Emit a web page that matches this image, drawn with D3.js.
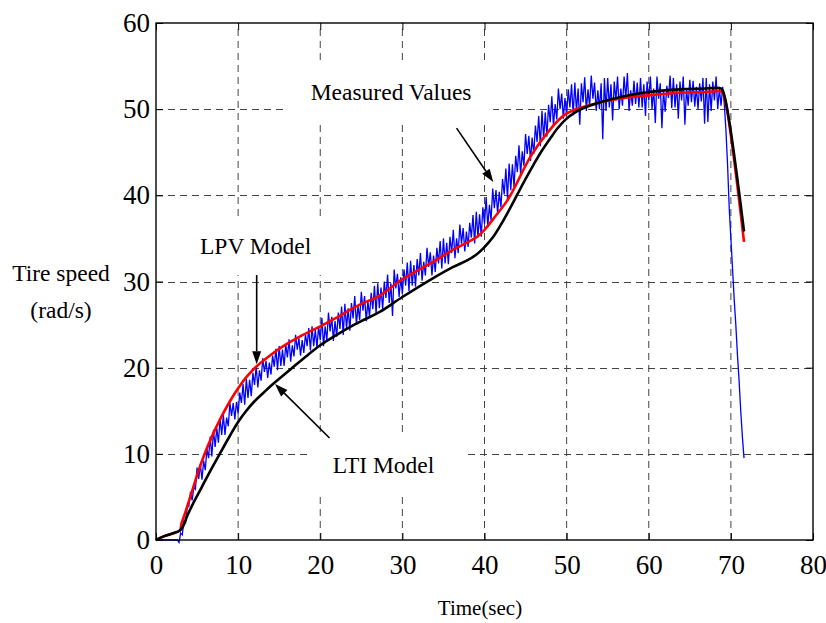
<!DOCTYPE html>
<html><head><meta charset="utf-8">
<script src="https://cdn.jsdelivr.net/npm/d3@7"></script>
<style>body{margin:0;background:#fff} svg{display:block}</style>
</head><body><svg id="c" width="826" height="623"></svg>
<script>
// ---------- data ----------
const xTicks = [0, 10, 20, 30, 40, 50, 60, 70, 80];
const yTicks = [0, 10, 20, 30, 40, 50, 60];

// LTI model (black)
const ltiTime  = [0, 1, 2, 2.9, 3.3, 3.8, 4.5, 5.5, 6.6, 8, 9, 10, 11, 12, 13, 14, 15, 16.5, 18, 20, 22, 23.6, 25, 27.3, 30, 33.4, 36.2, 38, 39.1, 40, 41, 42, 43, 44, 45, 46, 47, 48, 49, 50, 51, 52, 53.7, 57, 60, 63.8, 67, 68.8, 69.2, 71.6];
const ltiSpeed = [0, 0.45, 0.75, 1.1, 1.6, 2.8, 4.2, 6.0, 8.0, 10.4, 12.1, 13.7, 15.0, 16.1, 17.0, 17.9, 18.7, 19.9, 21.1, 22.6, 23.8, 24.7, 25.4, 26.5, 28.2, 30.2, 31.7, 32.5, 33.2, 34.0, 35.1, 36.6, 38.3, 40.1, 41.9, 43.6, 45.2, 46.6, 47.9, 48.9, 49.6, 50.1, 50.7, 51.5, 52.0, 52.3, 52.4, 52.4, 51.6, 35.8];

// LPV model (red)
const lpvTime  = [0, 1, 2, 2.9, 3.1, 3.6, 4.5, 5.2, 5.8, 6.8, 7.8, 9, 10, 11, 12.3, 14, 15.5, 17.5, 20, 22, 23.6, 25, 27.3, 29.9, 33.4, 36.2, 39.1, 40, 41.1, 42.7, 43.5, 45.6, 47.6, 50, 53.7, 57, 60, 63.8, 67, 68.9, 69.3, 71.6];
const lpvSpeed = [0, 0.45, 0.75, 1.1, 1.9, 3.3, 6.0, 8.1, 9.7, 12.0, 14.0, 16.1, 17.6, 18.9, 20.2, 21.5, 22.5, 23.6, 24.8, 25.8, 26.7, 27.4, 28.4, 30.2, 32.1, 33.7, 35.2, 36.0, 37.3, 39.3, 40.6, 44.5, 47.2, 49.5, 50.7, 51.3, 51.6, 51.9, 52.0, 52.0, 51.0, 34.6];

// Measured values (blue), sampled every 0.2 s from t = 0
const measStart = 0, measStep = 0.2;
const measSpeed = [
  0, 0, 0, 0, 0,   0, 0, 0, 0, 0,   0, 0, 0, 0, -0.3,
  0.8, 0.6, 2.2, 2.0, 3.8,        // 3
  3.9, 5.6, 4.6, 6.1, 5.9,        // 4
  8.4, 7.1, 8.8, 7.0, 9.2,        // 5
  8.1, 10.6, 9.5, 12.0, 9.7,      // 6
  12.8, 10.8, 13.0, 11.3, 14.1,   // 7
  12.2, 14.5, 12.2, 14.2, 13.2,   // 8
  15.9, 14.4, 15.9, 14.0, 16.0,   // 9
  14.7, 17.1, 15.9, 18.1, 15.7,   // 10
  18.7, 16.5, 18.6, 16.7, 19.4,   // 11
  18.0, 20.2, 17.7, 19.7, 18.5,   // 12
  21.1, 19.5, 20.8, 18.8, 20.6,   // 13
  19.2, 21.4, 20.1, 22.2, 19.7,   // 14
  22.5, 20.2, 22.1, 20.2, 22.7,   // 15
  21.2, 23.3, 20.7, 22.6, 21.3,   // 16
  23.8, 22.1, 23.4, 21.4, 23.2,   // 17
  21.7, 23.9, 22.5, 24.6, 22.0,   // 18
  24.8, 22.5, 24.4, 22.3, 24.8,   // 19
  23.2, 25.8, 22.5, 24.8, 23.1,   // 20
  26.4, 24.2, 25.9, 23.1, 25.4,   // 21
  23.6, 26.4, 24.5, 27.1, 23.8,   // 22
  27.4, 24.5, 26.9, 24.3, 27.5,   // 23
  25.7, 28.3, 25.0, 27.2, 25.5,   // 24
  28.8, 26.6, 28.3, 25.4, 27.7,   // 25
  25.9, 28.7, 26.8, 29.5, 26.2,   // 26
  29.8, 26.9, 29.3, 26.8, 30.0,   // 27
  28.1, 30.8, 27.5, 29.8, 26.0,   // 28
  31.4, 29.2, 30.9, 28.2, 30.5,   // 29
  28.6, 31.4, 29.5, 32.2, 28.9,   // 30
  32.4, 29.5, 31.9, 29.4, 32.6,   // 31
  30.7, 33.3, 30.1, 32.3, 30.7,   // 32
  33.9, 31.7, 33.4, 30.7, 33.0,   // 33
  31.1, 33.9, 32.1, 34.7, 31.5,   // 34
  35.0, 32.1, 34.5, 32.0, 35.2,   // 35
  33.3, 36.0, 32.7, 35.0, 33.3,   // 36
  36.6, 34.4, 36.2, 33.5, 35.8,   // 37
  34.0, 36.8, 35.1, 37.7, 34.4,   // 38
  38.1, 35.1, 37.8, 35.2, 38.6,   // 39
  36.7, 39.8, 36.3, 38.9, 37.1,   // 40
  40.8, 38.5, 40.6, 37.8, 40.4,   // 41
  38.6, 41.9, 40.1, 43.1, 39.6,   // 42
  43.7, 40.6, 43.6, 40.9, 44.6,   // 43
  42.7, 45.8, 42.4, 45.1, 43.4,   // 44
  47.1, 44.8, 46.9, 44.0, 46.7,   // 45
  44.8, 48.1, 46.2, 49.2, 45.7,   // 46
  49.8, 46.6, 49.6, 46.8, 50.5,   // 47
  48.5, 51.5, 48.0, 50.6, 48.8,   // 48
  52.4, 50.0, 51.8, 48.9, 51.3,   // 49
  49.3, 52.3, 50.2, 52.9, 49.3,   // 50
  53.1, 49.7, 52.4, 48.2, 53.0,   // 51
  50.8, 53.7, 49.8, 52.3, 50.3,   // 52
  53.9, 51.2, 53.1, 49.8, 52.2,   // 53
  50.0, 53.0, 46.5, 53.6, 49.8,   // 54
  53.6, 50.2, 52.9, 48.7, 53.2,   // 55
  51.0, 53.8, 50.0, 52.4, 50.4,   // 56
  53.8, 51.2, 54.2, 49.8, 52.2,   // 57
  50.4, 53.3, 50.6, 53.1, 50.2,   // 58
  53.6, 50.2, 52.9, 49.2, 53.2,   // 59
  51.0, 53.8, 50.0, 52.4, 48.4,   // 60
  53.8, 51.2, 53.0, 47.8, 52.2,   // 61
  49.7, 52.7, 51.3, 53.9, 50.1,   // 62
  53.6, 50.2, 52.9, 48.9, 53.2,   // 63
  51.0, 53.8, 48.2, 52.4, 50.4,   // 64
  53.4, 50.8, 53.3, 50.3, 52.6,   // 65
  50.0, 53.0, 50.9, 53.6, 48.3,   // 66
  53.6, 48.5, 52.9, 49.8, 53.2,   // 67
  51.0, 53.8, 50.0, 52.4, 50.4,   // 68
  52.6, 50.6, 47.5, 43.5, 38.5,   // 69
  35.0, 31.5, 28.0, 25.0, 21.5,   // 70
  18.5, 15.0, 12.0, 9.5           // 71
];

// annotations (data units)
const labelText  = ["Measured Values", "LPV Model", "LTI Model"];
const labelX     = [18.84, 5.36, 21.52];
const labelY     = [51.06, 33.19, 7.81];
const boxX0      = [16.07, 2.68, 18.75];
const boxX1      = [41.04, 21.8, 37.38];
const boxY0      = [48.63, 30.75, 5.45];
const boxY1      = [55.24, 37.6, 12.19];
const arrowFromX = [36.6, 12.26, 21.13];
const arrowFromY = [47.8, 30.75, 11.84];
const arrowToX   = [41.07, 12.26, 14.49];
const arrowToY   = [41.55, 20.4, 18.1];

// ---------- drawing ----------
const W = 826, H = 623;
const m = {left: 156, top: 23, right: 13, bottom: 83};
const serif = "'Times New Roman', 'Liberation Serif', serif";
const svg = d3.select("#c");
const x = d3.scaleLinear().domain([0, 80]).range([m.left, W - m.right]);
const y = d3.scaleLinear().domain([0, 60]).range([H - m.bottom, m.top]);

// grid
const grid = svg.append("g").attr("stroke", "#444").attr("stroke-width", 1).attr("stroke-dasharray", "7,5");
grid.selectAll("line.v").data(xTicks.slice(1, -1)).join("line").attr("class", "v")
  .attr("x1", d => x(d)).attr("x2", d => x(d)).attr("y1", y(0)).attr("y2", y(60));
grid.selectAll("line.h").data(yTicks.slice(1, -1)).join("line").attr("class", "h")
  .attr("y1", d => Math.round(y(d)) + 0.5).attr("y2", d => Math.round(y(d)) + 0.5).attr("x1", x(0)).attr("x2", x(80));

// white label boxes hiding the grid
svg.append("g").selectAll("rect").data(labelText).join("rect")
  .attr("x", (d, i) => x(boxX0[i])).attr("y", (d, i) => y(boxY1[i]))
  .attr("width", (d, i) => x(boxX1[i]) - x(boxX0[i])).attr("height", (d, i) => y(boxY0[i]) - y(boxY1[i]))
  .attr("fill", "#fff");

// series
const meas = measSpeed.map((v, i) => [measStart + i * measStep, v]);
const lti = ltiTime.map((t, i) => [t, ltiSpeed[i]]);
const lpv = lpvTime.map((t, i) => [t, lpvSpeed[i]]);
const lineLin = d3.line().x(d => x(d[0])).y(d => y(d[1]));
const lineSm = d3.line().x(d => x(d[0])).y(d => y(d[1])).curve(d3.curveCatmullRom.alpha(0.5));
svg.append("path").datum(meas).attr("d", lineLin).attr("fill", "none").attr("stroke", "#0000ff").attr("stroke-width", 1.3);
svg.append("path").datum(lpv).attr("d", lineSm).attr("fill", "none").attr("stroke", "#ff0000").attr("stroke-width", 2.6);
svg.append("path").datum(lti).attr("d", lineSm).attr("fill", "none").attr("stroke", "#000").attr("stroke-width", 2.6);

// axes
function styleAxis(g, showText) {
  g.select(".domain").remove();
  g.selectAll(".tick line").attr("stroke", "#000").attr("stroke-width", 1);
  g.selectAll(".tick text").attr("font-family", serif).attr("font-size", 27).attr("fill", "#000");
  if (!showText) g.selectAll(".tick text").remove();
}
svg.append("g").attr("transform", `translate(0,${y(0)})`)
  .call(d3.axisBottom(x).tickValues(xTicks).tickFormat(d3.format("d")).tickSizeInner(-7).tickSizeOuter(0).tickPadding(15))
  .call(g => styleAxis(g, true));
svg.append("g").attr("transform", `translate(${x(0)},0)`)
  .call(d3.axisLeft(y).tickValues(yTicks).tickFormat(d3.format("d")).tickSizeInner(-7).tickSizeOuter(0).tickPadding(6))
  .call(g => styleAxis(g, true));
svg.append("g").attr("transform", `translate(0,${y(60)})`)
  .call(d3.axisTop(x).tickValues(xTicks).tickSizeInner(-7).tickSizeOuter(0))
  .call(g => styleAxis(g, false));
svg.append("g").attr("transform", `translate(${x(80)},0)`)
  .call(d3.axisRight(y).tickValues(yTicks).tickSizeInner(-7).tickSizeOuter(0))
  .call(g => styleAxis(g, false));

// frame
svg.append("rect").attr("x", x(0)).attr("y", y(60)).attr("width", x(80) - x(0)).attr("height", y(0) - y(60))
  .attr("fill", "none").attr("stroke", "#000").attr("stroke-width", 1.4);

// annotation texts
svg.append("g").selectAll("text").data(labelText).join("text")
  .attr("x", (d, i) => x(labelX[i])).attr("y", (d, i) => y(labelY[i]))
  .attr("font-family", serif).attr("font-size", 23.5).attr("fill", "#000").text(d => d);

// arrows
const arr = svg.append("g");
labelText.forEach((d, i) => {
  const x1 = x(arrowFromX[i]), y1 = y(arrowFromY[i]), x2 = x(arrowToX[i]), y2 = y(arrowToY[i]);
  const ang = Math.atan2(y2 - y1, x2 - x1), L = 13, Wd = 4.5;
  const bx = x2 - L * Math.cos(ang), by = y2 - L * Math.sin(ang);
  arr.append("line").attr("x1", x1).attr("y1", y1).attr("x2", bx).attr("y2", by)
    .attr("stroke", "#000").attr("stroke-width", 1.6);
  arr.append("path").attr("fill", "#000").attr("d",
    `M${x2},${y2}L${bx + Wd * Math.sin(ang)},${by - Wd * Math.cos(ang)}L${bx - Wd * Math.sin(ang)},${by + Wd * Math.cos(ang)}Z`);
});

// axis titles
const tt = svg.append("g").attr("font-family", serif).attr("fill", "#000").attr("text-anchor", "middle");
tt.append("text").attr("x", 61).attr("y", 281).attr("font-size", 23.5).text("Tire speed");
tt.append("text").attr("x", 61).attr("y", 318).attr("font-size", 23.5).text("(rad/s)");
tt.append("text").attr("x", 480).attr("y", 615).attr("font-size", 21).text("Time(sec)");
</script>
</body></html>
